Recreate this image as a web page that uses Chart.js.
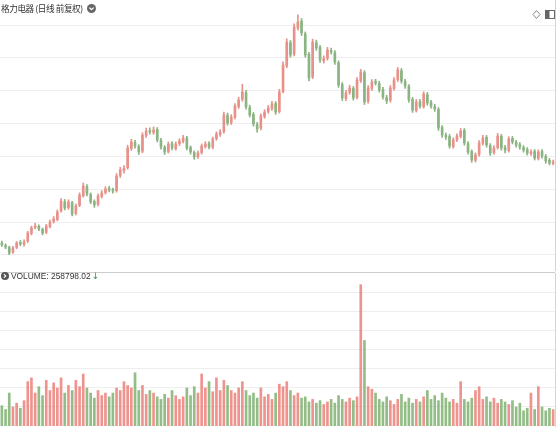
<!DOCTYPE html>
<html>
<head>
<meta charset="utf-8">
<script src="https://cdn.jsdelivr.net/npm/chart.js@4.4.1/dist/chart.umd.min.js"></script>
<style>
  body { margin: 0; background: #fff; }
  #wrap { position: relative; width: 558px; height: 430px; overflow: hidden; font-family: "Noto Sans CJK SC", "Noto Sans", sans-serif; }
  #main { position: absolute; left: 0; top: 0; }
  #vol { position: absolute; left: 0; top: 273px; }
  #sep { position: absolute; left: 0; top: 272px; width: 555px; height: 1px; background: #cdcdcd; }
  .title { position: absolute; left: 1px; top: 1px; font-size: 8.6px; letter-spacing: -0.4px; line-height: 14px; color: #333; white-space: nowrap; }
  .title svg { vertical-align: -1px; margin-left: 4px; }
  .vlabel { position: absolute; left: 1px; top: 270px; font-family: "Liberation Sans", Arial, sans-serif; font-size: 8.4px; line-height: 12px; color: #333; white-space: nowrap; }
  .vlabel svg { vertical-align: -1px; margin-right: 2px; }
  .arrow { font-family: "DejaVu Sans", sans-serif; font-size: 9px; color: #3a9a3a; margin-left: 1px; }
  .tools { position: absolute; right: 2px; top: 2px; }
</style>
</head>
<body>
<div id="wrap">
  <canvas id="main" width="558" height="271"></canvas>
  <div id="sep"></div>
  <canvas id="vol" width="558" height="157"></canvas>
  <div class="title">格力电器 (日线 前复权)<svg width="9" height="9" viewBox="0 0 9 9"><circle cx="4.5" cy="4.5" r="4.5" fill="#666"/><path d="M2.4 3.6 L4.5 5.7 L6.6 3.6" stroke="#fff" stroke-width="1.3" fill="none"/></svg></div>
  <div class="tools"><svg width="24" height="12" viewBox="0 0 24 12"><path d="M4.5 1.5 L8 5.5 L4.5 9.5 L1 5.5 Z" stroke="#888" stroke-width="1" fill="none"/><rect x="13.5" y="1.5" width="9" height="8" stroke="#666" stroke-width="1" fill="none"/><rect x="14" y="2" width="3.5" height="7" fill="#666"/></svg></div>
  <div class="vlabel"><svg width="8" height="8" viewBox="0 0 8 8"><circle cx="4" cy="4" r="4" fill="#555"/><path d="M2.8 2.2 L4.8 4 L2.8 5.8" stroke="#fff" stroke-width="1.1" fill="none"/></svg>VOLUME: 258798.02<span class="arrow">↓</span></div>
</div>
<script>
// 日线数据
const opens = [
  6.80, 6.45, 6.15, 5.45, 6.15, 6.90, 6.60, 7.10, 8.30, 9.20,
  9.35, 8.90, 8.45, 9.30, 10.10, 10.40, 11.70, 13.10, 12.20, 12.95,
  11.35, 12.55, 14.00, 15.40, 14.20, 13.15, 12.70, 13.90, 14.50, 15.10,
  14.95, 14.80, 17.10, 17.85, 18.30, 21.20, 22.10, 21.50, 20.80, 23.20,
  23.95, 23.65, 24.10, 22.45, 21.40, 20.75, 21.95, 21.20, 21.95, 22.30,
  22.75, 21.35, 20.60, 19.95, 20.60, 21.50, 21.95, 21.40, 22.70, 23.35,
  23.80, 26.25, 25.15, 25.95, 27.60, 28.70, 29.70, 27.45, 26.40, 24.85,
  24.30, 26.10, 26.85, 27.30, 28.05, 26.85, 29.90, 33.80, 37.30, 35.60,
  39.55, 40.60, 38.65, 35.55, 32.10, 37.30, 36.60, 34.55, 34.95, 36.10,
  35.80, 34.25, 30.95, 28.80, 29.75, 30.35, 29.00, 31.55, 32.75, 28.40,
  30.35, 31.40, 31.10, 30.20, 28.95, 28.55, 30.35, 31.70, 33.05, 31.40,
  30.65, 28.70, 27.00, 28.35, 27.60, 29.40, 28.20, 27.60, 27.15, 24.40,
  23.20, 23.05, 21.50, 22.55, 23.05, 23.95, 21.95, 20.75, 19.40, 20.30,
  22.00, 22.90, 21.65, 20.60, 21.35, 23.05, 21.35, 20.90, 22.75, 22.15,
  21.80, 21.35, 21.05, 20.45, 20.75, 19.70, 20.75, 20.00, 19.40, 18.95
];
const closes = [
  6.52, 6.22, 5.30, 6.07, 6.83, 6.67, 6.98, 8.35, 9.11, 9.41,
  8.96, 8.35, 9.41, 10.02, 10.48, 11.54, 13.22, 12.15, 13.07, 11.24,
  12.46, 14.13, 15.50, 14.28, 13.07, 12.61, 13.98, 14.44, 15.05, 14.89,
  14.74, 17.02, 17.94, 18.20, 21.29, 22.20, 21.59, 20.68, 23.26, 23.87,
  23.72, 24.03, 22.50, 21.44, 20.68, 21.89, 21.29, 21.89, 22.35, 22.81,
  21.29, 20.68, 19.92, 20.52, 21.59, 21.89, 21.44, 22.66, 23.42, 23.72,
  26.31, 25.09, 26.00, 27.68, 28.59, 29.81, 27.53, 26.31, 24.94, 24.18,
  26.16, 26.76, 27.37, 27.98, 26.76, 29.81, 33.92, 37.42, 35.44, 39.70,
  40.46, 38.79, 35.44, 31.94, 37.42, 36.51, 34.68, 34.90, 36.20, 35.90,
  34.37, 30.87, 28.90, 29.66, 30.42, 28.90, 31.64, 32.85, 28.29, 30.42,
  31.33, 31.18, 30.11, 29.05, 28.44, 30.42, 31.64, 33.16, 31.48, 30.72,
  28.59, 27.07, 28.29, 27.68, 29.50, 28.13, 27.68, 27.22, 24.33, 23.26,
  22.96, 21.59, 22.50, 23.11, 23.87, 22.05, 20.68, 19.46, 20.22, 22.05,
  22.81, 21.74, 20.52, 21.29, 23.11, 21.29, 20.98, 22.66, 22.20, 21.74,
  21.44, 20.98, 20.52, 20.68, 19.76, 20.68, 20.07, 19.31, 19.00, 19.15
];
const highs = [
  7.10, 6.70, 6.35, 6.30, 7.05, 7.20, 7.30, 8.60, 9.40, 9.80,
  9.60, 9.10, 9.65, 10.30, 10.85, 11.85, 13.60, 13.45, 13.40, 13.15,
  12.75, 14.45, 15.95, 15.70, 14.45, 13.40, 14.25, 14.80, 15.40, 15.45,
  15.20, 17.40, 18.35, 18.60, 21.70, 22.60, 22.45, 21.80, 23.60, 24.30,
  24.35, 24.50, 24.40, 22.75, 21.65, 22.20, 22.25, 22.20, 22.70, 23.20,
  23.05, 21.60, 20.85, 20.85, 21.90, 22.25, 22.25, 22.95, 23.75, 24.10,
  26.75, 26.60, 26.35, 28.05, 29.00, 31.00, 30.05, 27.80, 26.70, 25.20,
  26.50, 27.10, 27.75, 28.40, 28.35, 30.20, 34.40, 37.90, 37.65, 40.20,
  41.55, 41.00, 38.95, 35.85, 37.85, 37.70, 36.90, 35.30, 36.60, 36.50,
  36.10, 34.55, 31.25, 30.05, 30.85, 30.65, 32.00, 33.25, 33.05, 30.80,
  31.70, 31.75, 31.45, 30.50, 29.30, 30.80, 32.00, 33.55, 33.40, 31.75,
  30.95, 29.00, 28.65, 28.70, 29.85, 29.75, 28.55, 27.95, 27.45, 24.70,
  23.55, 23.35, 22.85, 23.45, 24.25, 24.25, 22.25, 21.00, 20.55, 22.40,
  23.20, 23.20, 21.95, 21.65, 23.50, 23.35, 21.70, 23.00, 23.05, 22.45,
  22.10, 21.65, 21.35, 21.00, 21.05, 21.00, 21.05, 20.30, 19.70, 19.45
];
const lows = [
  6.30, 5.95, 5.05, 5.25, 5.95, 6.40, 6.35, 6.90, 8.05, 8.95,
  8.70, 8.05, 8.25, 9.10, 9.85, 10.20, 11.50, 11.85, 11.95, 10.95,
  11.10, 12.35, 13.80, 14.00, 12.80, 12.25, 12.45, 13.65, 14.25, 14.60,
  14.40, 14.55, 16.80, 17.45, 18.05, 20.90, 21.25, 20.30, 20.55, 22.90,
  23.40, 23.35, 22.20, 21.10, 20.30, 20.50, 21.00, 20.95, 21.65, 22.05,
  21.00, 20.35, 19.55, 19.70, 20.35, 21.25, 21.15, 21.15, 22.45, 23.05,
  23.55, 24.75, 24.85, 25.70, 27.30, 28.40, 27.20, 26.00, 24.60, 23.70,
  24.05, 25.80, 26.55, 27.00, 26.40, 26.60, 29.65, 33.50, 35.10, 35.30,
  39.20, 38.40, 35.10, 31.50, 31.85, 36.15, 34.30, 34.20, 34.65, 35.55,
  34.00, 30.50, 28.50, 28.50, 29.45, 28.55, 28.75, 31.25, 27.90, 28.10,
  30.05, 30.85, 29.80, 28.70, 28.05, 28.25, 30.10, 31.40, 31.15, 30.35,
  28.25, 26.70, 26.75, 27.35, 27.35, 27.80, 27.35, 26.85, 23.95, 22.90,
  22.60, 21.25, 21.25, 22.25, 22.80, 21.70, 20.35, 19.10, 19.15, 20.05,
  21.70, 21.40, 20.15, 20.35, 21.10, 20.95, 20.55, 20.65, 21.90, 21.40,
  21.10, 20.65, 20.20, 20.15, 19.45, 19.45, 19.75, 18.95, 18.70, 18.70
];
const volumes = [
  320000, 260000, 520000, 300000, 360000, 280000, 400000, 700000, 760000, 520000,
  620000, 480000, 720000, 560000, 680000, 600000, 760000, 520000, 640000, 560000,
  720000, 620000, 820000, 600000, 520000, 440000, 560000, 480000, 520000, 460000,
  520000, 600000, 560000, 700000, 640000, 600000, 840000, 560000, 640000, 500000,
  560000, 520000, 460000, 420000, 500000, 440000, 560000, 480000, 420000, 460000,
  600000, 480000, 620000, 520000, 820000, 600000, 700000, 540000, 760000, 560000,
  720000, 640000, 560000, 520000, 600000, 700000, 560000, 480000, 520000, 440000,
  600000, 460000, 500000, 420000, 520000, 660000, 620000, 700000, 560000, 480000,
  520000, 440000, 460000, 380000, 420000, 360000, 400000, 340000, 380000, 420000,
  360000, 480000, 420000, 380000, 440000, 400000, 460000, 2230000, 1350000, 620000,
  580000, 520000, 420000, 380000, 460000, 400000, 340000, 420000, 500000, 380000,
  440000, 360000, 420000, 380000, 460000, 560000, 420000, 480000, 400000, 520000,
  440000, 380000, 420000, 360000, 700000, 420000, 380000, 440000, 560000, 620000,
  420000, 460000, 380000, 440000, 360000, 420000, 380000, 340000, 400000, 300000,
  360000, 240000, 280000, 520000, 260000, 620000, 300000, 240000, 280000, 258798.02
];
const days = closes.map((c, i) => i);
const priceGrid = [5, 10, 15, 20, 25, 30, 35, 40];
const volumeGrid = [300000, 600000, 900000, 1200000, 1500000, 1800000, 2100000];

const upColor = '#e8918a';
const downColor = '#8ab482';
const candleColors = days.map(i => closes[i] >= opens[i] ? upColor : downColor);
const volColors = days.map(i => closes[i] >= opens[i] ? 'rgba(234,120,112,0.8)' : 'rgba(120,172,104,0.8)');

Chart.defaults.animation = false;

new Chart(document.getElementById('main'), {
  type: 'bar',
  data: {
    labels: days,
    datasets: [{
      // wick
      data: days.map(i => [lows[i], highs[i]]),
      backgroundColor: candleColors,
      barThickness: 1,
      grouped: false,
      order: 2
    }, {
      // body
      data: days.map(i => [opens[i], closes[i]]),
      backgroundColor: candleColors,
      barThickness: 2,
      grouped: false,
      order: 1
    }]
  },
  options: {
    responsive: false,
    devicePixelRatio: 1,
    layout: { padding: { left: 0, right: 3, top: 0, bottom: 0 } },
    plugins: { legend: { display: false }, tooltip: { enabled: false } },
    scales: {
      x: { display: false },
      y: {
        position: 'right',
        min: 2.56,
        max: 43.81,
        afterBuildTicks: axis => { axis.ticks = priceGrid.map(v => ({ value: v })); },
        ticks: { display: false },
        grid: { color: '#eeeeee', drawTicks: false },
        border: { display: true, color: '#d4d4d4' }
      }
    }
  }
});

new Chart(document.getElementById('vol'), {
  type: 'bar',
  data: {
    labels: days,
    datasets: [{
      data: volumes,
      backgroundColor: volColors,
      barThickness: 2
    }]
  },
  options: {
    responsive: false,
    devicePixelRatio: 1,
    layout: { padding: { left: 0, right: 3, top: 0, bottom: 4 } },
    plugins: { legend: { display: false }, tooltip: { enabled: false } },
    scales: {
      x: { display: false },
      y: {
        position: 'right',
        min: 0,
        max: 2415000,
        afterBuildTicks: axis => { axis.ticks = volumeGrid.map(v => ({ value: v })); },
        ticks: { display: false },
        grid: { color: '#eeeeee', drawTicks: false },
        border: { display: true, color: '#d4d4d4' }
      }
    }
  }
});
</script>
</body>
</html>
